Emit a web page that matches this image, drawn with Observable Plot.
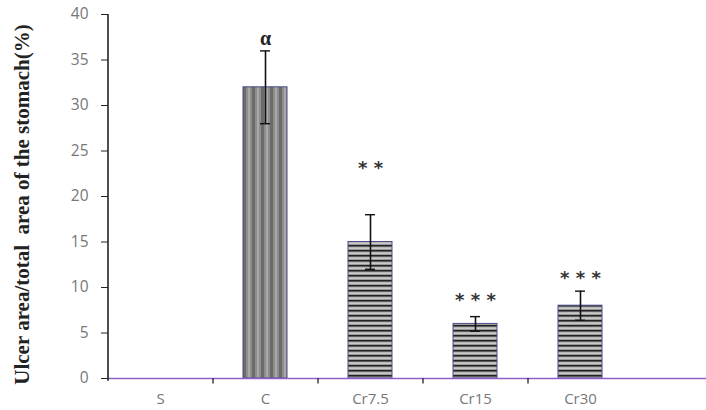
<!DOCTYPE html>
<html><head><meta charset="utf-8">
<script src="https://cdn.jsdelivr.net/npm/d3@7"></script>
<script src="https://cdn.jsdelivr.net/npm/@observablehq/plot@0.6"></script>
<style>
body{margin:0;background:#fff;}
#chart svg{display:block;}
</style>
</head><body><div id="chart"></div>
<script>
const categories = ["S", "C", "Cr7.5", "Cr15", "Cr30"];
const values = [0, 32, 15, 6, 8];
const errors = [0, 4, 3, 0.8, 1.6];
const marks = ["", "α", "* *", "* * *", "* * *"];
const markY = [0, 37.3, 23.6, 9.0, 11.5];
const yTicks = [0, 5, 10, 15, 20, 25, 30, 35, 40];
const patterns = ["none", "url(#vstripe)", "url(#hstripe)", "url(#hstripe)", "url(#hstripe)"];

const data = categories.map((c, i) => ({cat: c, v: values[i], e: errors[i], m: marks[i], my: markY[i], fill: patterns[i]}));
const bars = data.filter(d => d.v > 0);
const alphas = bars.filter(d => d.m === "α");
const stars = bars.filter(d => d.m !== "α");

const W = 706, H = 410, left = 108, right = 633;
const step = (right - left) / categories.length;
const pad = 0.58;

const plot = Plot.plot({
  width: W, height: H,
  marginLeft: left, marginRight: 0, marginTop: 14, marginBottom: 32,
  style: {fontFamily: "'Open Sans', sans-serif", background: "#fff"},
  x: {domain: categories, range: [left, right], paddingInner: pad, paddingOuter: pad / 2, align: 0.5, label: null, axis: null},
  y: {domain: [0, 40], ticks: yTicks, label: null, axis: null},
  marks: [
    Plot.barY(bars, {x: "cat", y: "v", fill: "fill", stroke: "#4a4a8a", strokeWidth: 1}),
    Plot.ruleX(bars, {x: "cat", y1: d => d.v - d.e, y2: d => d.v + d.e, stroke: "#111", strokeWidth: 1.6}),
    Plot.tickY(bars, {x: "cat", y: d => d.v - d.e, stroke: "#111", strokeWidth: 1.4, insetLeft: 17, insetRight: 17}),
    Plot.tickY(bars, {x: "cat", y: d => d.v + d.e, stroke: "#111", strokeWidth: 1.4, insetLeft: 17, insetRight: 17}),
    Plot.text(alphas, {x: "cat", y: "my", text: "m", fontSize: 20, fontWeight: "bold", fill: "#222", fontFamily: "'Liberation Serif', serif"}),
    Plot.text(stars, {x: "cat", y: "my", text: "m", dy: 4, fontSize: 18, fontWeight: "bold", fill: "#333", fontFamily: "'DejaVu Sans', sans-serif"}),
    Plot.ruleY([0], {stroke: "#8e5fc9", strokeWidth: 1.6}),
    Plot.ruleX(categories.slice(0, -1), {x: d => d, dx: step / 2, y1: 0, y2: -0.6, stroke: "#222", strokeWidth: 1.3}),
    Plot.axisY({ticks: yTicks, tickSize: 7, tickPadding: 13, fontSize: 15.5, color: "#777", stroke: "#222", tickFormat: d => d}),
    Plot.ruleX([categories[0]], {dx: -step / 2, y1: -0.3, y2: 40, stroke: "#222", strokeWidth: 1.6}),
    Plot.axisX({tickSize: 0, tickPadding: 15, fontSize: 15, color: "#777"}),
    Plot.text(["Ulcer area/total  area of the stomach(%)"], {frameAnchor: "left", textAnchor: "middle", dx: -86, dy: 8, rotate: -90, fontSize: 21, fontWeight: "bold", fill: "#222", fontFamily: "'Liberation Serif', serif"})
  ]
});

const ns = "http://www.w3.org/2000/svg";
const defs = document.createElementNS(ns, "defs");
defs.innerHTML = `
<pattern id="vstripe" patternUnits="userSpaceOnUse" width="9" height="10">
  <rect width="9" height="10" fill="#8e8e8e"/>
  <rect x="0" width="3" height="10" fill="#6b6b6b"/>
  <rect x="5" width="2" height="10" fill="#a8a8a8"/>
</pattern>
<pattern id="hstripe" patternUnits="userSpaceOnUse" width="10" height="5">
  <rect width="10" height="5" fill="#9a9a9a"/>
  <rect y="0" width="10" height="1.5" fill="#222"/>
  <rect y="2.6" width="10" height="1" fill="#e8e8e8"/>
</pattern>`;
plot.insertBefore(defs, plot.firstChild);
document.getElementById("chart").appendChild(plot);
</script>
</body></html>
